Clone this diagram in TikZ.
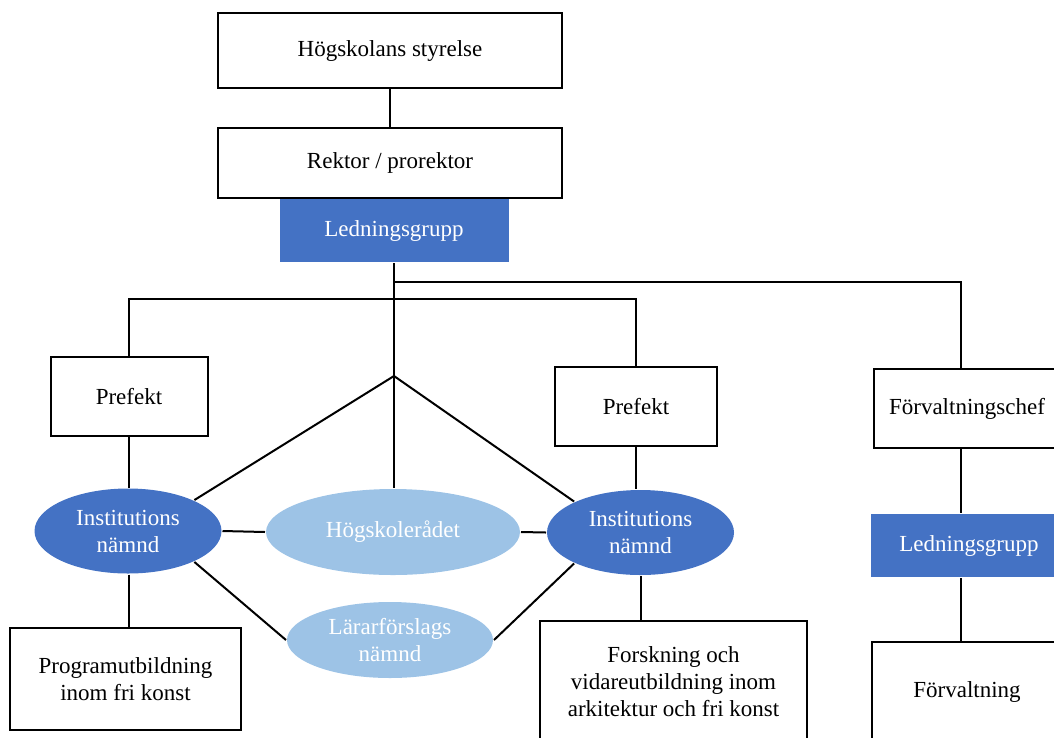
\documentclass[tikz,border=0pt]{standalone}
\usepackage{fontspec}
\setmainfont{Liberation Serif}
\usepackage{tikz}
\usetikzlibrary{positioning, shapes.geometric}
\definecolor{darkblue}{HTML}{4472C4}
\definecolor{lightblue}{HTML}{9DC3E6}

\begin{document}
\begin{tikzpicture}[x=1pt, y=-1pt, line width=2pt, font=\fontsize{23}{27}\selectfont]
\tikzstyle{box}=[draw, rectangle, fill=white, align=center, inner sep=0pt]
\tikzstyle{bluebox}=[rectangle, fill=darkblue, text=white, align=center, inner sep=0pt]
\tikzstyle{council}=[ellipse, fill=darkblue, text=white, align=center, inner sep=0pt]
\tikzstyle{board}=[ellipse, fill=lightblue, text=white, align=center, inner sep=0pt]

\clip (0,0) rectangle (1054,737);

\node[box, minimum width=344, minimum height=75](styr)	at	(390,50.5){Högskolans styrelse};
\node[box, minimum width=344, minimum height=70](rektor)	at	(390,163){Rektor / prorektor};
\node[bluebox, minimum width=229, minimum height=63](lg1)	at	(394,230.5){Ledningsgrupp};

\node[box, minimum width=157, minimum height=79](pref1)	at	(129,396.5){Prefekt};
\node[council, minimum width=187, minimum height=85](inst1)	at	(128,531){Institutions\\nämnd};
\node[box, minimum width=231, minimum height=102](prog)	at	(125.5,679){Programutbildning\\inom fri konst};

\node[board, minimum width=254, minimum height=86](hsr)	at	(393,532){Högskolerådet};
\node[board, minimum width=206, minimum height=76](lfn)	at	(390,640){Lärarförslags\\nämnd};

\node[box, minimum width=162, minimum height=79](pref2)	at	(636,406.5){Prefekt};
\node[council, minimum width=187, minimum height=85](inst2)	at	(640.5,532.5){Institutions\\nämnd};
\node[box, minimum width=267, minimum height=122](forsk)	at	(673.5,682){Forskning och\\vidareutbildning inom\\arkitektur och fri konst};

\node[box, minimum width=186, minimum height=79](fchef)	at	(967,408.5){Förvaltningschef};
\node[bluebox, minimum width=196, minimum height=63](lg2)	at	(969,545.5){Ledningsgrupp};
\node[box, minimum width=190, minimum height=100](forv)	at	(967,692){Förvaltning};

\coordinate(apex)	at	(394,376);
\coordinate(lcol)	at	(129,0);
\coordinate(rcol)	at	(961,0);

\path[draw](styr) -- (rektor);
\path[draw](lg1.south) -- ++(0,19) -| (fchef.north -| rcol);
\path[draw](lg1.south) -- ++(0,36) -| (pref1.north);
\path[draw](lg1.south) ++(0,36) -| (pref2.north);
\path[draw](lg1.south) -- (apex) -- (apex |- hsr.north);

\path[draw](apex) -- (inst1.25);
\path[draw](apex) -- (inst2.155);
\path[draw](inst1.east) -- (hsr.west);
\path[draw](hsr.east) -- (inst2.west);
\path[draw](inst1.-25) -- (lfn.west);
\path[draw](lfn.east) -- (inst2.-155);

\path[draw](pref1.south) -- (pref1.south |- inst1.north);
\path[draw](inst1.south -| lcol) -- (prog.north -| lcol);
\path[draw](pref2.south) -- (pref2.south |- inst2.north);
\path[draw](inst2.south) -- (inst2.south |- forsk.north);

\path[draw](fchef.south -| rcol) -- (lg2.north -| rcol);
\path[draw](lg2.south -| rcol) -- (forv.north -| rcol);

\end{tikzpicture}
\end{document}
